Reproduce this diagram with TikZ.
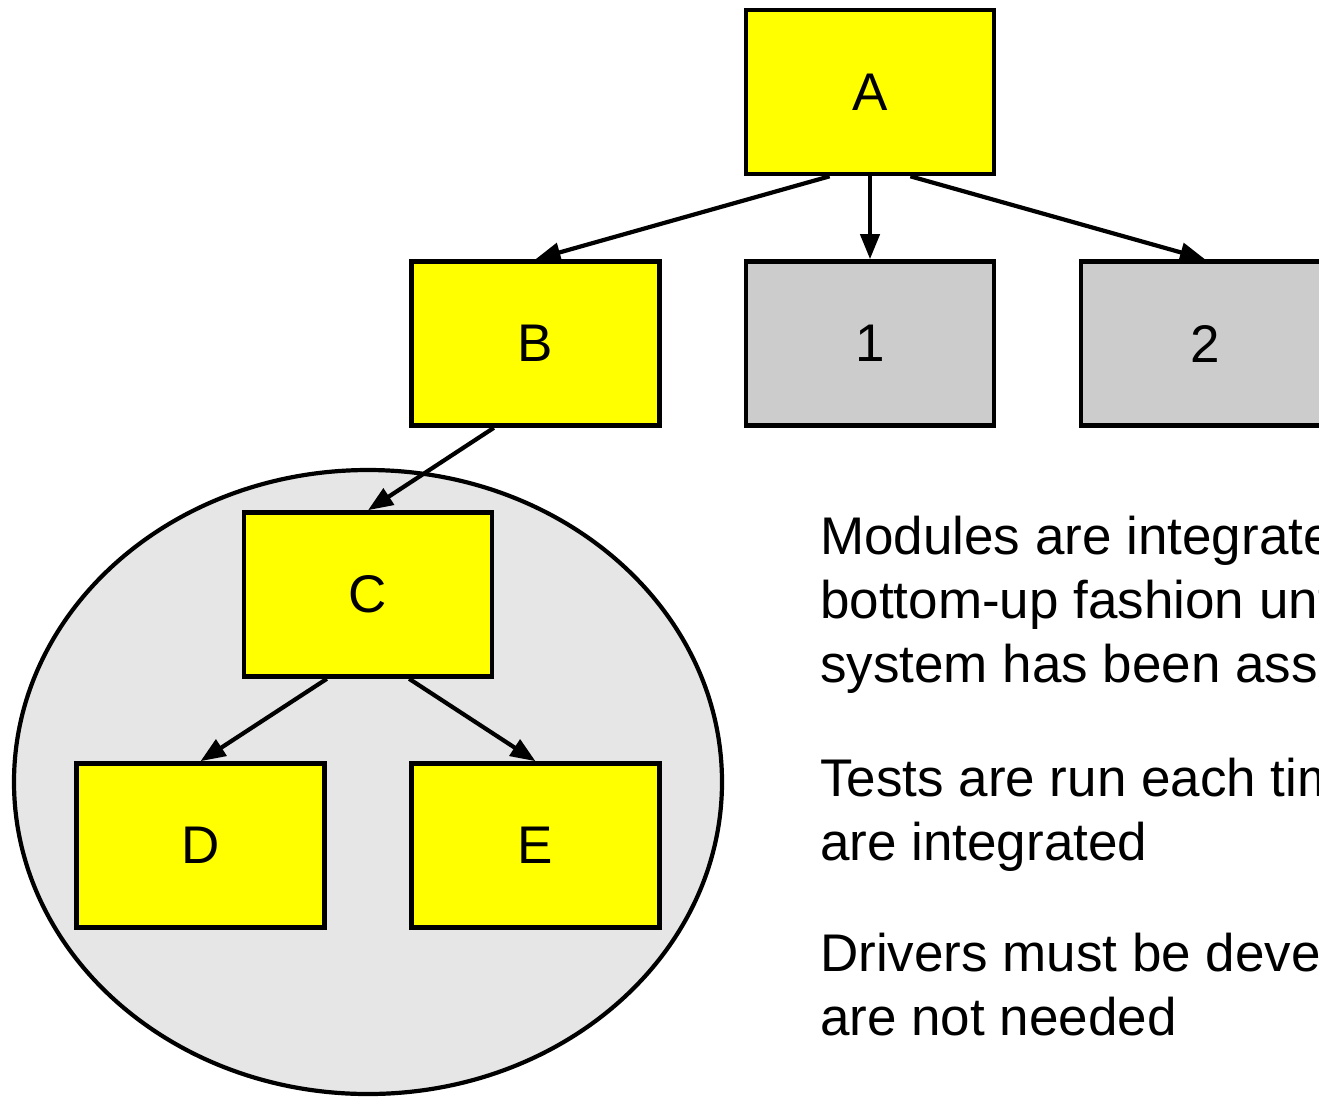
\documentclass[tikz,border=0pt]{standalone}
\usepackage{fontspec}
\setmainfont{Liberation Sans}
\usetikzlibrary{arrows.meta,calc}
\definecolor{boxyellow}{RGB}{255,255,0}
\definecolor{boxgray}{RGB}{204,204,204}
\definecolor{ovalgray}{RGB}{230,230,230}
\begin{document}
\begin{tikzpicture}[x=1pt,y=-1pt,
  box/.style={draw=black, line width=4.6pt, minimum width=248pt, minimum height=164pt, inner sep=0pt, font=\fontsize{53}{64}\selectfont},
  ybox/.style={box, fill=boxyellow},
  gbox/.style={box, fill=boxgray},
  conn/.style={line width=4.2pt, -{Triangle[length=25pt,width=19pt]}},
  txt/.style={anchor=base west, inner sep=0pt, font=\fontsize{53}{64}\selectfont}]
\useasboundingbox (0,0) rectangle (1319,1096);
\clip (0,0) rectangle (1319,1096);
\draw[line width=4.2pt, fill=ovalgray] (368,782) ellipse [x radius=354, y radius=312];
\node[ybox] (A) at (870,92) {A};
\node[ybox] (B) at (535.5,343.5) {B};
\node[gbox] (n1) at (870,343.5) {1};
\node[gbox] (n2) at (1205,343.5) {2};
\node[ybox] (C) at (368,594.5) {C};
\node[ybox] (D) at (200.5,845.5) {D};
\node[ybox] (E) at (535.5,845.5) {E};
\draw[conn] ($(A.south west)!0.34!(A.south east)$) -- (B.north);
\draw[conn] (A.south) -- (n1.north);
\draw[conn] ($(A.south west)!0.66!(A.south east)$) -- (n2.north);
\draw[conn] ($(B.south west)!0.335!(B.south east)$) -- (C.north);
\draw[conn] ($(C.south west)!0.337!(C.south east)$) -- (D.north);
\draw[conn] ($(C.south west)!0.663!(C.south east)$) -- (E.north);
\node[txt] (t1) at (820,554) {Modules are integrated};
\node[txt] (t2) at (820,618) {bottom-up fashion until};
\node[txt] (t3) at (820,682) {system has been assembled};
\node[txt] (t4) at (820,796) {Tests are run each time};
\node[txt] (t5) at (820,860) {are integrated};
\node[txt] (t6) at (820,971) {Drivers must be developed};
\node[txt] (t7) at (820,1035) {are not needed};
\end{tikzpicture}
\end{document}
